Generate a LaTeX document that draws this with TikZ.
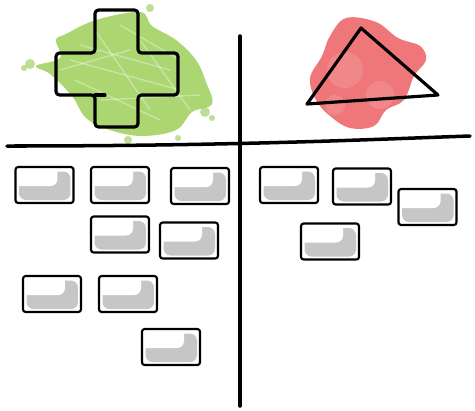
\documentclass[tikz,border=0pt]{standalone}
\usepackage{tikz}
\definecolor{splashgreen}{HTML}{A2D163}
\definecolor{splashred}{HTML}{EC5F63}
\definecolor{cardgray}{HTML}{C6C6C6}
\colorlet{ink}{black}

\begin{document}
\begin{tikzpicture}[x=0.02cm, y=-0.02cm,
    card/.style={draw=ink, line width=1.2pt, rounded corners=1.5pt, fill=white,
      minimum width=1.16cm, minimum height=0.72cm, inner sep=0pt,
      path picture={
        \fill[cardgray, rounded corners=4pt]
          ([shift={(0.07cm,0.06cm)}]path picture bounding box.south west) rectangle
          ([shift={(-0.06cm,-0.09cm)}]path picture bounding box.north east);
        \fill[white, rounded corners=4pt]
          ([shift={(-0.2cm,0.34cm)}]path picture bounding box.south west) rectangle
          ([shift={(-0.32cm,0.2cm)}]path picture bounding box.north east);
      }},
    stroke/.style={draw=ink, line width=1.8pt, line cap=round, line join=round}]
  \useasboundingbox (0,0) rectangle (475,410);
  % --- green splash behind the plus ---
  \fill[splashgreen, opacity=0.9] plot[smooth cycle, tension=0.6] coordinates {
      (66,34) (96,20) (140,12) (152,26) (176,40) (196,60) (206,82) (212,104)
      (192,112) (176,130) (142,136) (110,130) (86,118) (72,96) (50,74) (36,66)
      (60,58) (56,40)};
  \foreach \sx/\sy/\sr in {30/64/5, 24/68/3, 205/112/5, 212/118/3, 150/8/4, 128/140/4, 178/138/3}
    \fill[splashgreen, opacity=0.7] (\sx,\sy) circle (\sr);
  % scribble streaks on the splash
  \foreach \ax/\ay/\bx/\by in {70/60/180/90, 80/45/170/70, 100/100/200/95, 95/30/150/110,
        120/25/180/60, 75/80/160/120, 140/40/190/110, 60/70/130/50}
    \draw[white, opacity=0.35, line width=0.8pt] (\ax,\ay) -- (\bx,\by);
  % --- red splash behind the triangle ---
  \fill[splashred, opacity=0.85] plot[smooth cycle, tension=0.6] coordinates {
      (346,18) (376,22) (398,38) (420,46) (426,60) (414,76) (404,100) (386,110)
      (374,126) (350,128) (330,116) (316,100) (310,78) (322,56) (330,36)};
  \foreach \wx/\wy/\wr in {345/70/18, 380/95/14, 335/105/10}
    \fill[white, opacity=0.12] (\wx,\wy) circle (\wr);
  % --- plus and triangle ---
  \draw[stroke, rounded corners=2pt] (95,10) -- (138,10) -- (138,53) -- (178,53) -- (178,95)
    -- (138,95) -- (138,127) -- (95,127) -- (95,95) -- (56,95) -- (56,53) -- (95,53) -- cycle;
  \draw[stroke] (95,95) -- (105,95);
  \draw[stroke] (361,28) -- (438,95) -- (307,104) -- cycle;
  % --- the two axes ---
  \draw[stroke, line width=2pt] (240,36) -- (240,406);
  \draw[stroke, line width=2pt] (7,146) .. controls (240,146) and (380,139) .. (470,136);
  % --- cards ---
  \foreach \n/\x/\y in {1/44.5/185, 2/120/185, 3/200/186, 4/120/234.5, 5/189/240.5,
        6/52/294, 7/128/294, 8/171/347,
        9/289/185, 10/362/186.5, 11/427.5/207, 12/330/241.5}
    \node[card] (card\n) at (\x,\y) {};
\end{tikzpicture}
\end{document}
